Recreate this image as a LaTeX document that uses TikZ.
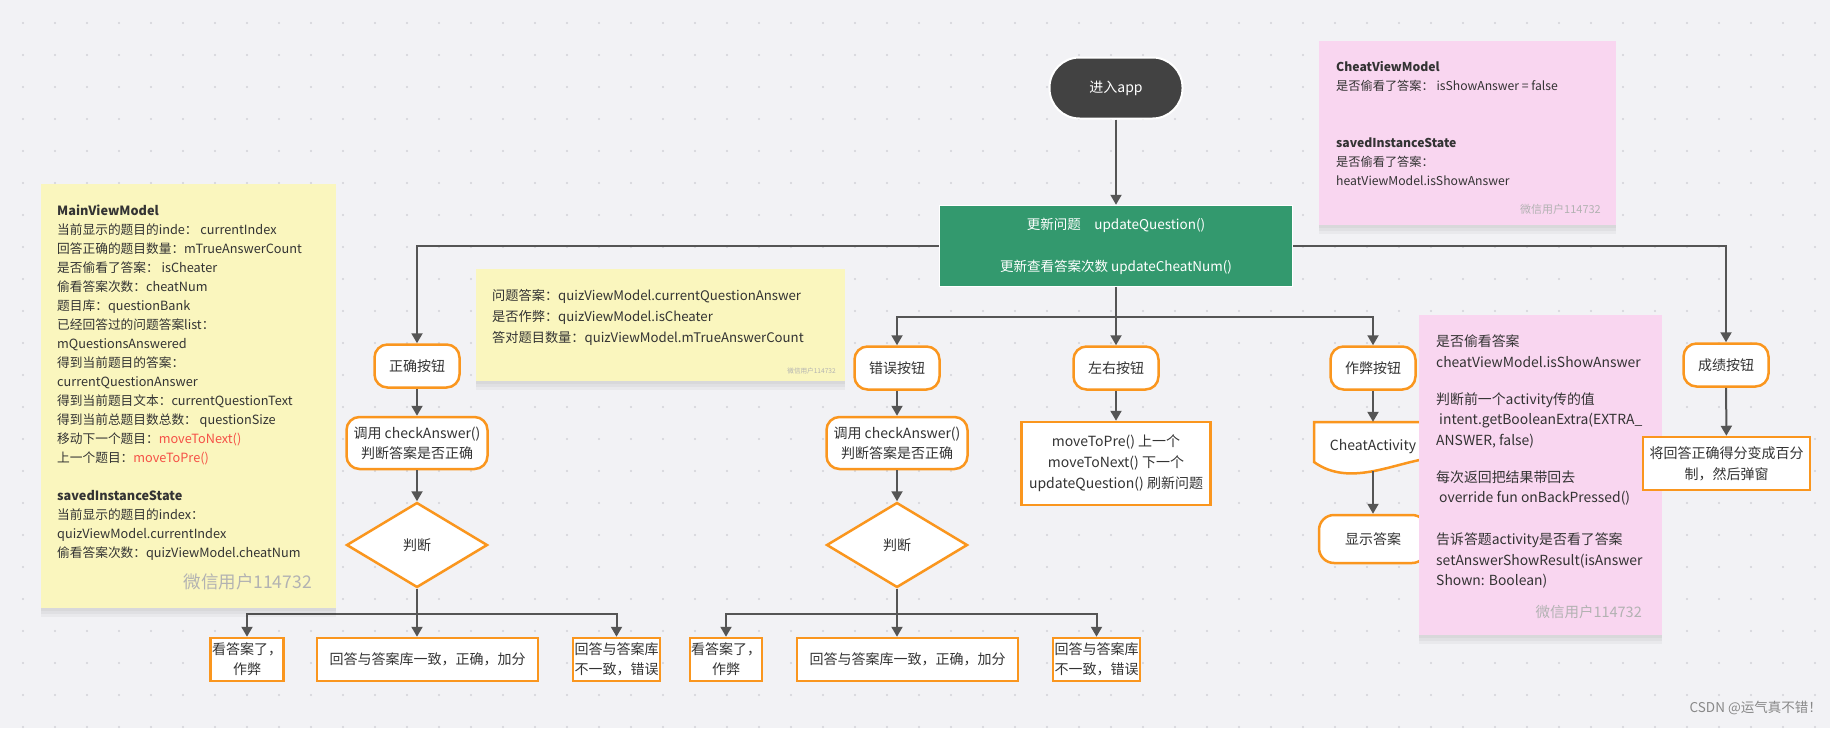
\documentclass[tikz,border=0pt]{standalone}
\usepackage{fontspec}
\setmainfont{Noto Sans CJK SC}
\usetikzlibrary{arrows.meta,shapes.geometric}
\definecolor{bgc}{RGB}{242,242,245}
\definecolor{dotc}{RGB}{210,210,215}
\definecolor{linec}{RGB}{85,85,85}
\definecolor{orangec}{RGB}{250,150,30}
\definecolor{greenc}{RGB}{51,153,110}
\definecolor{darkc}{RGB}{66,66,66}
\definecolor{yellowc}{RGB}{250,246,190}
\definecolor{pinkc}{RGB}{249,214,240}
\definecolor{textc}{RGB}{51,51,51}
\definecolor{redc}{RGB}{245,80,70}
\definecolor{markc}{RGB}{178,178,178}
\begin{document}
\begin{tikzpicture}[x=1pt,y=-1pt,
  btnbox/.style={draw=orangec,line width=2.5pt,fill=white,rounded corners=13pt,
    minimum width=85pt,minimum height=43pt,inner sep=0pt,align=center,
    text=textc,font=\fontsize{14}{20}\selectfont},
  rectbox/.style={draw=orangec,line width=2.5pt,fill=white,inner sep=0pt,
    minimum height=43pt,align=center,text=textc,font=\fontsize{14}{20}\selectfont},
  judge/.style={diamond,draw=orangec,line width=2.5pt,fill=white,inner sep=0pt,
    minimum width=141pt,minimum height=85pt,text=textc,font=\fontsize{14}{20}\selectfont},
  link/.style={draw=linec,line width=2pt,-{Triangle[length=10pt,width=11pt]}},
  note/.style={preaction={fill=black,fill opacity=0.035,transform canvas={yshift=-3pt}},
    preaction={fill=black,fill opacity=0.035,transform canvas={yshift=-6pt}},
    preaction={fill=black,fill opacity=0.035,transform canvas={yshift=-9pt}}},
  notetext/.style={anchor=north west,inner sep=0pt,align=left,text=textc},
  watermark/.style={anchor=east,inner sep=0pt,text=markc}]
\useasboundingbox (0,0) rectangle (1830,728);
\fill[bgc] (0,0) rectangle (1830,728);
\foreach \x in {23,55,...,1830}
  \foreach \y in {23,55,...,728}
    \fill[dotc] (\x,\y) circle (1.1pt);
%
% top
\node (start) [fill=darkc,draw=white,line width=2pt,rounded corners=30pt,minimum width=133pt,
  minimum height=61pt,text=white,font=\fontsize{14}{20}\selectfont] at (1116,88) {进入app};
\node (update) [fill=greenc,draw=white,line width=1.5pt,minimum width=353pt,minimum height=81pt,
  text=white,align=center,font=\fontsize{13.5}{21}\selectfont] at (1116,246)
  {更新问题\quad updateQuestion()\\[21pt]更新查看答案次数 updateCheatNum()};
\coordinate (split) at (1116,317);
%
% right answer
\node (btnRight) [btnbox] at (417,366) {正确按钮};
\node (checkR) [btnbox,minimum width=141pt,minimum height=52pt] at (417,443) {调用 checkAnswer()\\判断答案是否正确};
\node (judgeR) [judge] at (417,545) {判断};
\coordinate (forkR) at (417,614);
\node (cheatR) [rectbox,minimum width=73pt] at (247,659.5) {看答案了，\\作弊};
\node (okR) [rectbox,minimum width=221pt] at (427.5,659.5) {回答与答案库一致，正确，加分};
\node (wrongR) [rectbox,minimum width=87pt] at (616.5,659.5) {回答与答案库\\不一致，错误};
%
% wrong answer
\node (btnWrong) [btnbox] at (897,368) {错误按钮};
\node (checkW) [btnbox,minimum width=141pt,minimum height=52pt] at (897,443) {调用 checkAnswer()\\判断答案是否正确};
\node (judgeW) [judge] at (897,545) {判断};
\coordinate (forkW) at (897,614);
\node (cheatW) [rectbox,minimum width=72pt] at (726,659.5) {看答案了，\\作弊};
\node (okW) [rectbox,minimum width=221pt] at (907.5,659.5) {回答与答案库一致，正确，加分};
\node (wrongW) [rectbox,minimum width=87pt] at (1096.5,659.5) {回答与答案库\\不一致，错误};
%
% prev / next
\node (btnLR) [btnbox] at (1116,368) {左右按钮};
\node (moveBox) [rectbox,minimum width=189pt,minimum height=83pt,font=\fontsize{14}{21}\selectfont] at (1116,463.5)
  {moveToPre() 上一个\\moveToNext() 下一个\\updateQuestion() 刷新问题};
%
% cheat
\node (btnCheat) [btnbox] at (1373,368) {作弊按钮};
\filldraw[draw=orangec,fill=white,line width=2.5pt] (1314,422) -- (1432,422) -- (1432,458)
  .. controls (1395,462) and (1350,488) .. (1314,462) -- cycle;
\node (cheatAct) [inner sep=0pt,minimum width=118pt,minimum height=49pt,text=textc,
  font=\fontsize{14}{20}\selectfont] at (1373,446.5) {CheatActivity};
\node (showAns) [btnbox,minimum width=108pt,minimum height=48pt,rounded corners=15pt] at (1373,539) {显示答案};
%
% score
\node (btnScore) [btnbox] at (1726,365) {成绩按钮};
%
% connectors
\draw[link] (start.south) -- (start.south |- update.north);
\draw[link] (update.west) -| (btnRight.north);
\draw[link] (update.east) -| (btnScore.north);
\draw[link] (update.south) -- (btnLR.north);
\draw[link] (split) -| (btnWrong.north);
\draw[link] (split) -| (btnCheat.north);
\draw[link] (btnRight) -- (checkR);
\draw[link] (checkR) -- (judgeR);
\draw[link] (judgeR.south) -- (judgeR.south |- okR.north);
\draw[link] (forkR) -| (cheatR.north);
\draw[link] (forkR) -| (wrongR.north);
\draw[link] (btnWrong) -- (checkW);
\draw[link] (checkW) -- (judgeW);
\draw[link] (judgeW.south) -- (judgeW.south |- okW.north);
\draw[link] (forkW) -| (cheatW.north);
\draw[link] (forkW) -| (wrongW.north);
\draw[link] (btnLR) -- (moveBox);
\draw[link] (btnCheat) -- (cheatAct.north);
\draw[link] (cheatAct.south) -- (showAns.north);
%
% notes
\fill[yellowc,note] (41,184) rectangle (336,608);
\node (mainNote) [notetext,font=\fontsize{12.7}{19}\selectfont] at (57,204.5)
  {\textbf{MainViewModel}\\
   当前显示的题目的inde： currentIndex\\
   回答正确的题目数量：mTrueAnswerCount\\
   是否偷看了答案： isCheater\\
   偷看答案次数：cheatNum\\
   题目库：questionBank\\
   已经回答过的问题答案list：\\
   mQuestionsAnswered\\
   得到当前题目的答案：\\
   currentQuestionAnswer\\
   得到当前题目文本：currentQuestionText\\
   得到当前总题目数总数： questionSize\\
   移动下一个题目：\textcolor{redc}{moveToNext()}\\
   上一个题目：\textcolor{redc}{moveToPre()}\\[19pt]
   \textbf{savedInstanceState}\\
   当前显示的题目的index：\\
   quizViewModel.currentIndex\\
   偷看答案次数：quizViewModel.cheatNum};
\node (markA) [watermark,font=\fontsize{17.5}{20}\selectfont] at (312,582) {微信用户114732};
%
\fill[yellowc,note] (476,269) rectangle (845,381);
\node (quizNote) [notetext,font=\fontsize{13.2}{21}\selectfont] at (492,289)
  {问题答案：quizViewModel.currentQuestionAnswer\\
   是否作弊：quizViewModel.isCheater\\
   答对题目数量：quizViewModel.mTrueAnswerCount};
\node (markB) [watermark,font=\fontsize{6.6}{8}\selectfont] at (836,371) {微信用户114732};
%
\fill[pinkc,note] (1319,41) rectangle (1616,225);
\node (cheatNote) [notetext,font=\fontsize{12.2}{19}\selectfont] at (1336,61)
  {\textbf{CheatViewModel}\\
   是否偷看了答案：\ isShowAnswer = false\\[38pt]
   \textbf{savedInstanceState}\\
   是否偷看了答案：\\
   heatViewModel.isShowAnswer};
\node (markC) [watermark,font=\fontsize{11}{13}\selectfont] at (1601,209) {微信用户114732};
%
\fill[pinkc,note] (1419,315) rectangle (1662,635);
\node (showNote) [notetext,font=\fontsize{13.9}{20.5}\selectfont] at (1436,335)
  {是否偷看答案\\
   cheatViewModel.isShowAnswer\\[16.5pt]
   判断前一个activity传的值\\
   \hspace{3pt}intent.getBooleanExtra(EXTRA\_\\
   ANSWER, false)\\[16.5pt]
   每次返回把结果带回去\\
   \hspace{3pt}override fun onBackPressed()\\[21.5pt]
   告诉答题activity是否看了答案\\
   setAnswerShowResult(isAnswer\\
   Shown: Boolean)};
\node (markD) [watermark,font=\fontsize{14.5}{16}\selectfont] at (1642,612) {微信用户114732};
%
% score box lies over the pink note
\node (scoreBox) [rectbox,minimum width=167pt,minimum height=53pt,font=\fontsize{14}{21}\selectfont] at (1726.5,463.5)
  {将回答正确得分变成百分\\制，然后弹窗};
\draw[link] (btnScore) -- (scoreBox);
%
\node (csdn) [watermark,text=linec!70,font=\fontsize{13.5}{15}\selectfont] at (1822,708) {CSDN @运气真不错！};
\end{tikzpicture}
\end{document}
